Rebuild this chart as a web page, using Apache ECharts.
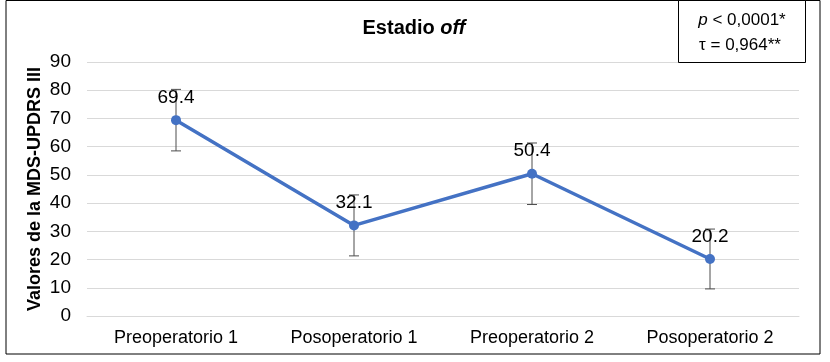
<!DOCTYPE html>
<html>
<head>
<meta charset="utf-8">
<script src="https://cdn.jsdelivr.net/npm/echarts@6/dist/echarts.min.js"></script>
<style>html,body{margin:0;padding:0;background:#fff}#c{width:830px;height:362px}</style>
</head>
<body>
<div id="c"></div>
<script>
const categories = ['Preoperatorio 1', 'Posoperatorio 1', 'Preoperatorio 2', 'Posoperatorio 2'];
const means = [69.4, 32.1, 50.4, 20.2];
const lower = [58.5, 21.3, 39.5, 9.6];
const upper = [80.3, 42.9, 61.3, 30.8];
const yTicks = [0, 10, 20, 30, 40, 50, 60, 70, 80, 90];

const chart = echarts.init(document.getElementById('c'), null, {renderer: 'canvas'});
const font = 'Liberation Sans, Arial, sans-serif';
const errData = categories.map((c, i) => [i, lower[i], upper[i]]);

chart.setOption({
  animation: false,
  backgroundColor: '#fff',
  grid: {left: 87, right: 31, top: 62, bottom: 46},
  xAxis: {
    type: 'category', data: categories, boundaryGap: true,
    axisLine: {show: true, lineStyle: {color: '#d9d9d9', width: 1}},
    axisTick: {show: false},
    axisLabel: {color: '#000', fontFamily: font, fontSize: 18, margin: 13}
  },
  yAxis: {
    type: 'value', min: yTicks[0], max: yTicks[yTicks.length - 1], interval: 10,
    name: 'Valores de la MDS-UPDRS III', nameLocation: 'middle', nameGap: 43,
    nameMoveOverlap: false,
    nameTextStyle: {fontFamily: font, fontSize: 18, fontWeight: 'bold', color: '#000'},
    axisLine: {show: false}, axisTick: {show: false},
    splitLine: {lineStyle: {color: '#d9d9d9', width: 1}},
    axisLabel: {color: '#000', fontFamily: font, fontSize: 19, margin: 16}
  },
  series: [
    {
      type: 'custom',
      data: errData,
      z: 1,
      renderItem: function (params, api) {
        const x = api.value(0);
        const lo = api.coord([x, api.value(1)]);
        const hi = api.coord([x, api.value(2)]);
        const hw = 5;
        const st = {stroke: '#4d4d4d', lineWidth: 1};
        return {
          type: 'group',
          children: [
            {type: 'line', shape: {x1: lo[0], y1: lo[1], x2: hi[0], y2: hi[1]}, style: st},
            {type: 'line', shape: {x1: lo[0] - hw, y1: lo[1], x2: lo[0] + hw, y2: lo[1]}, style: st},
            {type: 'line', shape: {x1: hi[0] - hw, y1: hi[1], x2: hi[0] + hw, y2: hi[1]}, style: st}
          ]
        };
      }
    },
    {
      type: 'line',
      data: means,
      z: 3,
      symbol: 'circle', symbolSize: 10,
      itemStyle: {color: '#4472C4'},
      lineStyle: {color: '#4472C4', width: 3.5},
      label: {
        show: true, position: 'top', distance: 8,
        color: '#000', fontFamily: font, fontSize: 19,
        formatter: p => p.value.toFixed(1)
      }
    }
  ],
  graphic: [
    {type: 'rect', shape: {x: 6, y: 0.5, width: 814, height: 353.5}, style: {fill: 'none', stroke: '#000', lineWidth: 1}, z: 10},
    {type: 'text', x: 414, y: 28, style: {text: '{b|Estadio }{i|off}', align: 'center', verticalAlign: 'middle', rich: {
      b: {fontFamily: font, fontSize: 20, fontWeight: 'bold', fill: '#000'},
      i: {fontFamily: font, fontSize: 20, fontWeight: 'bold', fontStyle: 'italic', fill: '#000'}
    }}, z: 10},
    {type: 'rect', shape: {x: 678.5, y: 0.5, width: 127, height: 62}, style: {fill: '#fff', stroke: '#000', lineWidth: 1}, z: 10},
    {type: 'text', x: 742, y: 20, style: {text: '{i|p}{n| < 0,0001*}', align: 'center', verticalAlign: 'middle', rich: {
      i: {fontFamily: font, fontSize: 17, fontStyle: 'italic', fill: '#000'},
      n: {fontFamily: font, fontSize: 17, fill: '#000'}
    }}, z: 11},
    {type: 'text', x: 740, y: 45, style: {text: 'τ = 0,964**', align: 'center', verticalAlign: 'middle', fontFamily: font, fontSize: 17, fill: '#000'}, z: 11}
  ]
});
</script>
</body>
</html>
